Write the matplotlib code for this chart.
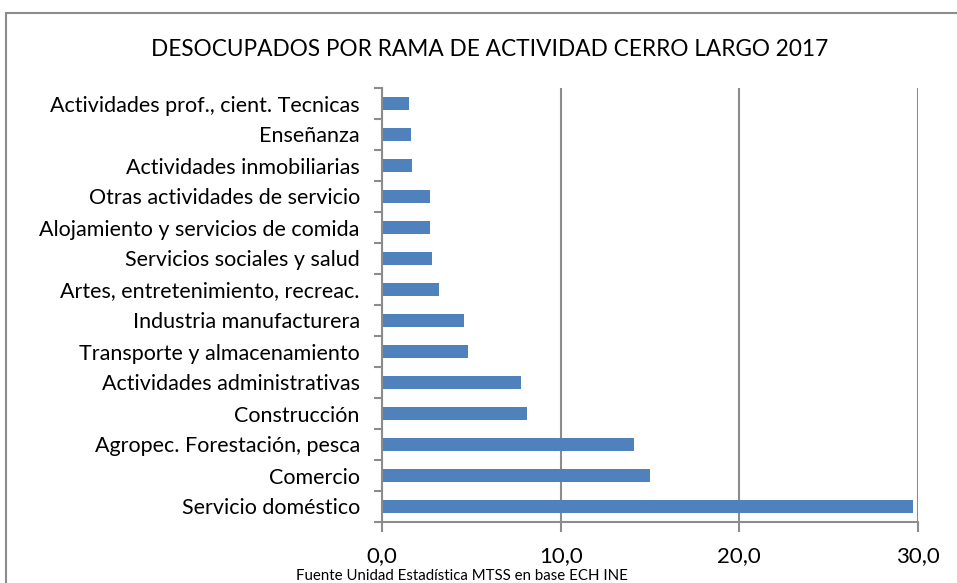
import matplotlib
matplotlib.use("Agg")
import matplotlib.pyplot as plt
from matplotlib.patches import Rectangle
import numpy as np

categories = [
    "Servicio doméstico",
    "Comercio",
    "Agropec. Forestación, pesca",
    "Construcción",
    "Actividades administrativas",
    "Transporte y almacenamiento",
    "Industria manufacturera",
    "Artes, entretenimiento, recreac.",
    "Servicios sociales y salud",
    "Alojamiento y servicios de comida",
    "Otras actividades de servicio",
    "Actividades inmobiliarias",
    "Enseñanza",
    "Actividades prof., cient. Tecnicas",
]
values = [29.7, 15.0, 14.1, 8.1, 7.8, 4.8, 4.6, 3.2, 2.8, 2.7, 2.7, 1.7, 1.6, 1.5]
xticks = [0, 10, 20, 30]
xtick_labels = ["0,0", "10,0", "20,0", "30,0"]
title = "DESOCUPADOS POR RAMA DE ACTIVIDAD CERRO LARGO 2017"
source = "Fuente Unidad Estadística MTSS en base ECH INE"

plt.rcParams['font.family'] = ['Lato', 'DejaVu Sans']

W, H = 957, 583
fig = plt.figure(figsize=(W / 100, H / 100), dpi=100)
ax = fig.add_axes([382 / W, 1 - 522 / H, (918 - 382) / W, (522 - 88) / H])

gray = "#8c8c8c"
y = np.arange(len(categories))
ax.barh(y, values, height=0.4, color="#4F81BD", zorder=3)

ax.set_xlim(0, 30)
ax.set_ylim(-0.5, len(categories) - 0.5)
ax.set_xticks(xticks)
ax.set_xticklabels(xtick_labels, fontsize=16)
ax.set_yticks(y)
ax.set_yticklabels(categories, fontsize=15.5)
ax.set_yticks(np.arange(-0.5, len(categories) + 0.5, 1), minor=True)

ax.tick_params(axis='y', which='major', length=0, pad=16)
ax.tick_params(axis='y', which='minor', length=6, width=1.5, color=gray, direction='out')
ax.tick_params(axis='x', which='major', length=7, width=1.5, color=gray, direction='out', pad=10)

ax.grid(axis='x', color=gray, linewidth=1.5, zorder=0)
ax.set_axisbelow(True)
for s in ['top', 'right']:
    ax.spines[s].set_visible(False)
for s in ['left', 'bottom']:
    ax.spines[s].set_color(gray)
    ax.spines[s].set_linewidth(1.5)
    ax.spines[s].set_zorder(4)

fig.text(490 / W, 1 - 50 / H, title, ha='center', va='center', fontsize=16.3)
fig.text(462 / W, 1 - 576 / H, source, ha='center', va='center', fontsize=10.8)

fig.patches.append(Rectangle((6 / W, -0.1), 1.2, 1 - 13 / H + 0.1, transform=fig.transFigure,
                             fill=False, edgecolor=gray, linewidth=1.5))

fig.savefig("out.png", dpi=100)
